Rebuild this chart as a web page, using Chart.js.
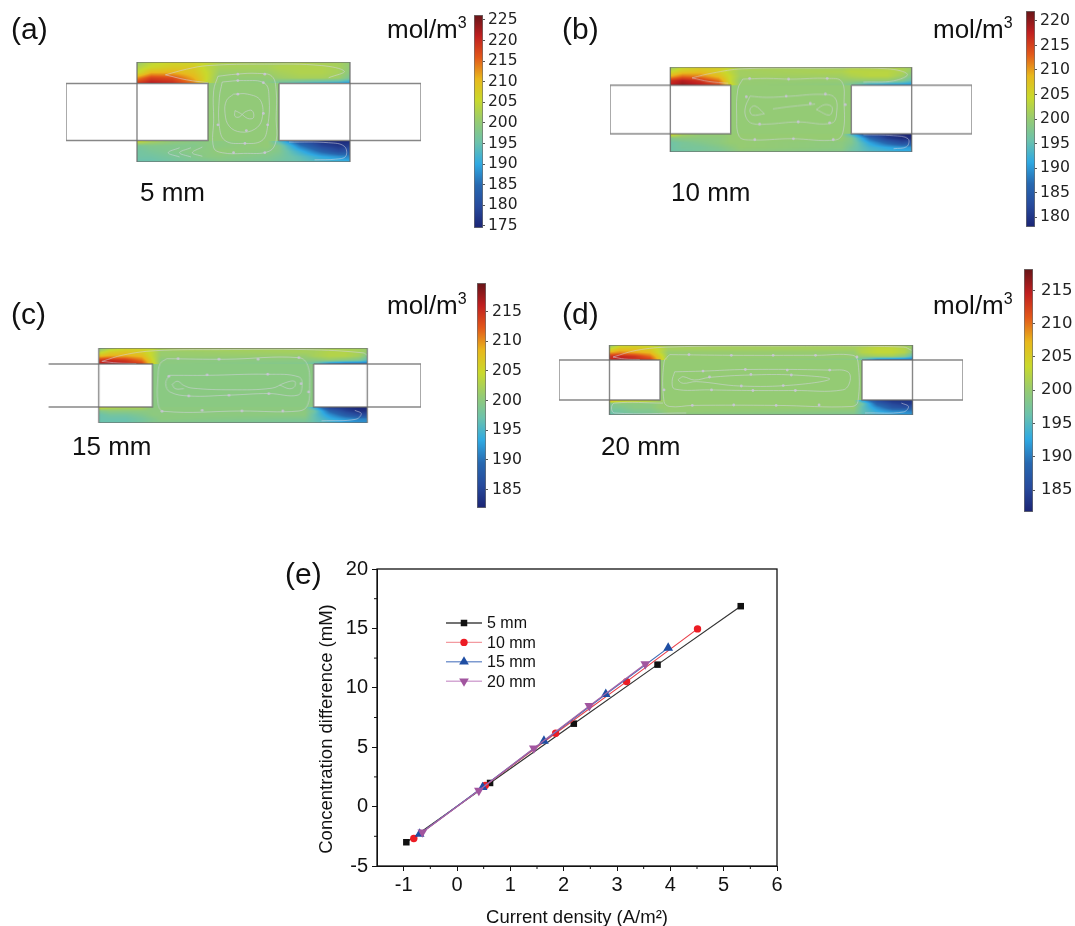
<!DOCTYPE html>
<html>
<head>
<meta charset="utf-8">
<title>Concentration fields and concentration difference vs current density</title>
<script src="https://cdn.jsdelivr.net/npm/chart.js@4/dist/chart.umd.js"></script>
<style>
  html, body { margin: 0; padding: 0; background: #fff; }
  #page { position: relative; width: 1075px; height: 926px; overflow: hidden; filter: blur(0.4px); }
  #page canvas { position: absolute; }
  .lbl { position: absolute; font-family: "Liberation Sans", Arial, sans-serif; color: #111; white-space: nowrap; line-height: 1; }
  .lbl span { font-size: 16px; position: relative; top: -10px; }
</style>
</head>
<body>
<div id="page"></div>
<script>
// (e) line chart
const seriesNames = ['5 mm', '10 mm', '15 mm', '20 mm'];
const x5 = [-0.95, 0.62, 2.19, 3.76, 5.32];
const y5 = [-3.0, 1.99, 6.98, 11.95, 16.87];
const x10 = [-0.81, 0.53, 1.85, 3.18, 4.51];
const y10 = [-2.69, 1.77, 6.17, 10.52, 14.96];
const x15 = [-0.70, 0.48, 1.63, 2.79, 3.96];
const y15 = [-2.3, 1.63, 5.53, 9.46, 13.36];
const x20 = [-0.65, 0.41, 1.44, 2.48, 3.53];
const y20 = [-2.16, 1.35, 4.91, 8.48, 12.0];
const xTicks = [-1, 0, 1, 2, 3, 4, 5, 6];
const xMinor = [-0.5, 0.5, 1.5, 2.5, 3.5, 4.5, 5.5];
const yTicks = [-5, 0, 5, 10, 15, 20];
const yMinor = [-2.5, 2.5, 7.5, 12.5, 17.5];

// colour bars
const barRangeA = [174.5, 226.2];
const barRangeB = [177.96, 222.04];
const barRangeC = [181.9, 219.8];
const barRangeD = [181.7, 218.2];
const barTicksA = [175, 180, 185, 190, 195, 200, 205, 210, 215, 220, 225];
const barTicksB = [180, 185, 190, 195, 200, 205, 210, 215, 220];
const barTicksC = [185, 190, 195, 200, 205, 210, 215];
const barTicksD = [185, 190, 195, 200, 205, 210, 215];
const barColors = ['#1b2474', '#274a9c', '#2768b0', '#2fa9e2', '#6cc2ac', '#96cb72',
  '#c9d92c', '#e8b81c', '#e2581a', '#c01f20', '#661518'];

// concentration in the side channels (mol/m3), top row first.
// columns are mm from the left end / from the right end of the channel
const colsLeft = [0, 1, 2.5, 4, 5, 5.8];
const colsRight = [5.8, 5, 3.5, 2, 0.8, 0];

const topA = [
  [200, 204, 206, 206, 205, 203, 202, 202, 203, 202, 202, 200],
  [203, 206, 208, 208, 204, 202, 202, 203, 203, 203, 202, 200],
  [205, 211, 211, 209, 205, 201, 201, 202, 203, 203, 202, 199],
  [213, 218, 217, 211, 205, 200, 200, 201, 202, 202, 201, 197],
  [219, 222, 220, 214, 204, 200, 199, 196, 193, 191, 190, 188]];
const botA = [
  [207, 203, 200, 199, 199, 199, 200, 193, 180, 176, 175, 175],
  [197, 198, 198, 198, 199, 199, 200, 198, 186, 179, 177, 178],
  [196, 197, 198, 199, 199, 200, 199, 198, 191, 184, 180, 182],
  [196, 196, 197, 198, 199, 199, 198, 197, 194, 190, 188, 187],
  [195, 195, 196, 197, 197, 198, 197, 196, 195, 193, 192, 191]];
const topB = [
  [200, 204, 206, 206, 204, 202, 201, 202, 202, 202, 202, 201],
  [204, 207, 208, 206, 203, 201, 202, 203, 203, 203, 202, 200],
  [209, 212, 211, 208, 204, 201, 201, 202, 203, 203, 201, 198],
  [216, 218, 216, 212, 204, 200, 200, 200, 200, 200, 198, 195],
  [218, 220, 218, 215, 205, 200, 199, 197, 191, 189, 189, 189]];
const botB = [
  [207, 202, 200, 200, 200, 200, 200, 193, 181, 179, 178, 178],
  [198, 199, 199, 199, 200, 200, 200, 198, 187, 181, 179, 179],
  [196, 197, 198, 199, 200, 200, 199, 198, 191, 186, 183, 184],
  [196, 197, 197, 198, 199, 200, 199, 197, 193, 191, 190, 190],
  [196, 196, 197, 197, 198, 199, 198, 196, 194, 193, 192, 192]];
const topC = [
  [199, 202, 205, 205, 204, 203, 202, 202, 202, 202, 202, 201],
  [203, 206, 207, 206, 204, 201, 202, 202, 203, 203, 202, 201],
  [208, 209, 209, 208, 204, 201, 201, 202, 203, 203, 202, 199],
  [214, 215, 214, 211, 205, 200, 200, 200, 201, 200, 199, 196],
  [216, 217, 216, 214, 206, 200, 199, 197, 190, 188, 188, 189]];
const botC = [
  [206, 204, 203, 203, 200, 200, 200, 194, 184, 183, 182, 182],
  [199, 200, 200, 200, 200, 200, 200, 198, 189, 185, 183, 183],
  [197, 198, 198, 199, 200, 200, 200, 197, 192, 188, 186, 186],
  [197, 197, 197, 198, 199, 200, 199, 197, 194, 192, 191, 191],
  [197, 197, 197, 198, 199, 199, 198, 197, 195, 193, 192, 192]];
const topD = [
  [199, 203, 204, 203, 202, 201, 201, 201, 202, 202, 201, 200],
  [203, 206, 206, 205, 203, 201, 201, 202, 203, 203, 202, 200],
  [208, 209, 208, 207, 203, 200, 200, 202, 203, 203, 202, 199],
  [213, 214, 213, 210, 205, 200, 200, 200, 201, 201, 199, 195],
  [214, 215, 214, 213, 206, 200, 199, 196, 189, 188, 188, 189]];
const botD = [
  [209, 206, 205, 204, 201, 200, 200, 192, 185, 183, 183, 183],
  [198, 199, 199, 199, 200, 200, 200, 197, 188, 185, 184, 184],
  [198, 198, 199, 199, 200, 200, 200, 196, 191, 187, 186, 187],
  [197, 197, 198, 198, 199, 200, 199, 196, 193, 191, 191, 190],
  [196, 197, 197, 198, 198, 199, 198, 196, 194, 193, 192, 192]];
const midValue = 199.8;

// streamlines in mm, origin at the lower left of the outer rectangle
const streamsA = [
  [[10.7, 6.0], [12, 6.15], [13.5, 6.2], [14.5, 6.0], [14.8, 5], [14.8, 3], [14.8, 1.5], [14.3, 0.75], [12.5, 0.6], [11, 0.65], [10.4, 1], [10.4, 3], [10.4, 5], [10.7, 6.0]],
  [[11, 5.6], [12.5, 5.7], [14, 5.5], [14.3, 4.5], [14.2, 2.5], [13.8, 1.5], [12.5, 1.3], [11.2, 1.5], [10.8, 2.5], [10.8, 4.5], [11, 5.6]],
  [[11.8, 4.75], [12.8, 4.75], [13.7, 4.3], [13.8, 3], [13.3, 2.3], [12.3, 2.1], [11.5, 2.5], [11.2, 3.4], [11.3, 4.3], [11.8, 4.75]],
  [[11.9, 3.6], [12.3, 3.4], [12.8, 3.05], [13.2, 3.1], [13.1, 3.6], [12.6, 3.5], [12.2, 3.15], [11.9, 3.2], [11.9, 3.6]],
  [[7, 6.1], [8.5, 6.5], [10, 6.75], [14, 6.85], [18, 6.75], [19.6, 6.35], [18.5, 5.9]],
  [[7, 6.1], [8.5, 5.75], [10, 5.55]],
  [[15.7, 1.4], [18.5, 1.35], [19.6, 1.1], [19.7, 0.4], [19, 0.2], [17.5, 0.15]],
  [[8.0, 1.0], [7.2, 0.65], [8.0, 0.35]],
  [[8.8, 1.0], [8, 0.65], [8.8, 0.35]],
  [[9.6, 1.05], [8.9, 0.65], [9.6, 0.4]]];
const arrowsA = [[12.1, 6.15], [14, 6.15], [12.1, 5.7], [13.9, 5.55], [12.1, 4.75], [13.9, 3.4], [14.2, 2.6], [10.7, 2.6], [12.7, 2.2], [12.6, 1.3], [11.8, 0.65], [14, 0.65]];
const streamsB = [
  [[11, 6.0], [13, 6.06], [15, 6.0], [18, 6.06], [19.2, 5.8], [19.4, 4], [19.3, 1.6], [18.7, 1.0], [15, 1.1], [11.5, 1.0], [10.7, 1.3], [10.5, 3], [10.6, 5.2], [11, 6.0]],
  [[11.6, 4.6], [13, 4.5], [15, 4.6], [17.5, 4.75], [18.6, 4.5], [18.8, 3.4], [18.4, 2.4], [15.5, 2.48], [13, 2.3], [11.8, 2.35], [11.3, 2.8], [11.2, 3.6], [11.6, 4.6]],
  [[12.8, 3.15], [12, 3.8], [11.6, 3.5], [11.8, 3.05], [12.8, 3.15]],
  [[17.1, 3.5], [17.8, 3.9], [18.4, 3.7], [18.2, 3.05], [17.1, 3.5]],
  [[13.5, 3.55], [15, 3.75], [17, 3.95]],
  [[6.8, 6.1], [8.5, 6.5], [11, 6.85], [17, 6.9], [23, 6.85], [24.65, 6.4], [23.5, 5.85], [21, 5.75]],
  [[6.8, 6.1], [8.2, 5.8], [9.8, 5.65]],
  [[21, 1.43], [23.5, 1.35], [24.7, 1.1], [24.6, 0.45], [23.5, 0.27]]];
const arrowsB = [[11.57, 6.06], [14.8, 6.0], [18.0, 6.06], [11.3, 4.55], [14.6, 4.6], [17.85, 4.77], [16.6, 4.0], [12.4, 2.3], [15.6, 2.48], [18.2, 2.4], [12.0, 1.02], [15.2, 1.1], [18.5, 1.02], [19.5, 3.9]];
const streamsC = [
  [[11.33, 6.0], [16.83, 5.95], [23.63, 6.1], [24.43, 5.4], [24.63, 3.5], [24.43, 1.65], [23.63, 1.12], [18.33, 1.12], [11.03, 1.09], [10.53, 1.8], [10.53, 4.45], [10.73, 5.55], [11.33, 6.0]],
  [[11.53, 4.45], [15.13, 4.45], [20.73, 4.55], [23.63, 4.3], [23.93, 3.5], [23.53, 2.6], [20.83, 2.75], [17.13, 2.6], [13.43, 2.52], [11.63, 2.9], [11.23, 3.67], [11.53, 4.45]],
  [[11.83, 3.6], [12.33, 3.9], [12.93, 3.5], [13.73, 3.25], [17.33, 3.1], [21.13, 3.25], [22.33, 3.75], [23.23, 3.9], [23.23, 3.4], [22.73, 3.2], [21.83, 3.55]],
  [[11.83, 3.6], [12.13, 3.2], [12.93, 3.2]],
  [[5.3, 5.75], [7.3, 6.35], [10.3, 6.75], [16.3, 6.85], [24.3, 6.85], [29.6, 6.55], [30, 6.3]],
  [[5.3, 5.75], [6.8, 5.6], [8.5, 5.55]],
  [[25.73, 0.2], [28.93, 0.35], [29.43, 0.88], [28.83, 1.18]]];
const arrowsC = [[12.39, 6.0], [16.19, 5.95], [19.83, 5.95], [23.63, 6.1], [11.53, 4.36], [15.09, 4.5], [20.73, 4.55], [23.83, 3.67], [24.53, 2.9], [13.38, 2.52], [17.13, 2.58], [20.83, 2.74], [10.89, 1.09], [14.63, 1.18], [18.33, 1.12], [22.13, 1.12]];
const streamsD = [
  [[10.96, 6.04], [17.06, 5.97], [25.5, 5.97], [29.1, 5.97], [29.6, 5.3], [29.6, 1.35], [29.0, 0.85], [21.5, 0.96], [13.3, 0.96], [10.96, 0.85], [10.4, 1.35], [10.4, 5.3], [10.96, 6.04]],
  [[11.45, 4.32], [14.26, 4.39], [18.55, 4.55], [26.8, 4.49], [28.6, 4.32], [28.8, 3.34], [28.1, 2.51], [23.3, 2.45], [19.2, 2.45], [14.9, 2.51], [11.45, 2.6], [11.2, 3.34], [11.45, 4.32]],
  [[11.95, 3.66], [12.3, 3.83], [13.4, 3.5], [14.9, 3.76], [18.9, 4.0], [23.2, 4.0], [26.8, 3.6], [23.2, 3.0], [17.9, 2.9], [13.6, 3.34], [12.3, 3.17], [11.8, 3.5], [11.95, 3.66]],
  [[5.35, 5.8], [7.7, 6.47], [11, 6.8], [20.9, 6.9], [34.1, 6.8], [34.9, 6.47]],
  [[5.35, 5.8], [6.5, 5.6], [8, 5.55]],
  [[10.3, 1.19], [5.5, 1.19], [5.2, 0.69], [5.5, 0.2], [12.6, 0.2]],
  [[30.3, 0.2], [34.1, 0.3], [34.6, 0.85], [33.9, 1.19]]];
const arrowsD = [[12.87, 6.04], [17.06, 5.97], [21.2, 5.97], [25.4, 5.97], [14.26, 4.39], [18.45, 4.55], [22.6, 4.49], [26.8, 4.49], [19, 4.06], [14.9, 3.8], [23, 4.0], [15.1, 2.51], [19.2, 2.45], [23.4, 2.45], [18.05, 2.9], [22.2, 2.94], [13.2, 0.96], [17.3, 1.0], [21.5, 0.96], [25.75, 1.0], [10.4, 2.51], [29.5, 5.8]];

const page = document.getElementById('page');

function addCanvas(left, top, w, h) {
  const c = document.createElement('canvas');
  c.width = w;
  c.height = h;
  c.style.left = left + 'px';
  c.style.top = top + 'px';
  c.style.width = w + 'px';
  c.style.height = h + 'px';
  page.appendChild(c);
  return c;
}

function hexRgb(h) {
  return [parseInt(h.slice(1, 3), 16), parseInt(h.slice(3, 5), 16), parseInt(h.slice(5, 7), 16)];
}
const barRgb = barColors.map(hexRgb);

function colorAt(v, range) {
  let f = (v - range[0]) / (range[1] - range[0]);
  f = Math.min(0.9999, Math.max(0, f)) * (barRgb.length - 1);
  const i = Math.floor(f), t = f - i;
  return barRgb[i].map((c, k) => c + (barRgb[i + 1][k] - c) * t);
}

function sampleGrid(grid, cols, xv, rowPos) {
  let j = cols.length - 2;
  for (let k = 0; k < cols.length - 1; k++) {
    if (xv <= cols[k + 1]) { j = k; break; }
  }
  const t = Math.min(1, Math.max(0, (xv - cols[j]) / (cols[j + 1] - cols[j])));
  const r = Math.min(grid.length - 1.001, Math.max(0, rowPos));
  const i = Math.floor(r), s = r - i;
  const a = grid[i][j] + (grid[i][j + 1] - grid[i][j]) * t;
  const b = grid[i + 1][j] + (grid[i + 1][j + 1] - grid[i + 1][j]) * t;
  return a + (b - a) * s;
}

// paints the concentration field under the streamlines, through the chart's scales
const fieldPlugin = {
  id: 'field',
  beforeDatasetsDraw(chart, args, opts) {
    const { x, y } = chart.scales;
    const { ctx, chartArea: area } = chart;
    const w = Math.ceil(area.width), h = Math.ceil(area.height);
    const img = ctx.createImageData(w, h);
    const L = x.max;
    const cols = colsLeft.map(c => 5 + c).concat(colsRight.map(c => L - 5 - c));
    for (let py = 0; py < h; py++) {
      const yv = y.getValueForPixel(area.top + py + 0.5);
      for (let px = 0; px < w; px++) {
        const xv = x.getValueForPixel(area.left + px + 0.5);
        if (xv < 5 || xv > L - 5) continue;
        let v = null;
        if (yv >= 5.5) v = sampleGrid(opts.top, cols, xv, (7 - yv) / 1.5 * 4);
        else if (yv <= 1.5) v = sampleGrid(opts.bottom, cols, xv, (1.5 - yv) / 1.5 * 4);
        else if (xv > 10 && xv < L - 10) v = midValue;
        if (v === null) continue;
        const c = colorAt(v, opts.range);
        const o = (py * w + px) * 4;
        img.data[o] = c[0];
        img.data[o + 1] = c[1];
        img.data[o + 2] = c[2];
        img.data[o + 3] = 255;
      }
    }
    ctx.putImageData(img, area.left, area.top);
  }
};

function toPoints(list) {
  return list.map(p => ({ x: p[0], y: p[1] }));
}

function fieldChart(cfg) {
  const L = cfg.length, s = cfg.clipLeft;
  // the two white windows with their stubs, and the outline of the cell
  const outline = [
    s ? [[s, 5.5], [10, 5.5], [10, 1.5], [s, 1.5]] : [[0, 5.5], [10, 5.5], [10, 1.5], [0, 1.5], [0, 5.5]],
    [[L - 10, 5.5], [L, 5.5], [L, 1.5], [L - 10, 1.5], [L - 10, 5.5]],
    [[5, 0], [5, 7], [L - 5, 7], [L - 5, 0], [5, 0]]
  ];
  const datasets = [];
  outline.forEach(o => datasets.push({
    data: toPoints(o), showLine: true, borderColor: 'rgba(105,105,105,0.8)', borderWidth: 1.4,
    pointRadius: 0, tension: 0
  }));
  datasets.push({
    data: toPoints(cfg.arrows), showLine: false, pointRadius: 1.4, pointStyle: 'circle',
    backgroundColor: 'rgba(205,198,218,0.85)', borderWidth: 0
  });
  cfg.streams.forEach(st => datasets.push({
    data: toPoints(st), showLine: true, borderColor: 'rgba(212,212,226,0.6)', borderWidth: 0.9,
    pointRadius: 0, tension: 0.4
  }));
  const pad = 2;
  const c = addCanvas(cfg.left - pad, cfg.top - pad, cfg.width + pad * 2, cfg.height + pad * 2);
  new Chart(c, {
    type: 'scatter',
    data: { datasets },
    plugins: [fieldPlugin],
    options: {
      responsive: false,
      animation: false,
      layout: { padding: pad, autoPadding: false },
      plugins: {
        legend: { display: false },
        tooltip: { enabled: false },
        field: { top: cfg.topGrid, bottom: cfg.botGrid, range: cfg.range }
      },
      scales: {
        x: { type: 'linear', min: 0, max: L, display: false },
        y: { type: 'linear', min: 0, max: 7, display: false }
      }
    }
  });
}

function barChart(cfg) {
  // padV has to stay above half a label height plus the tick padding
  const padV = 20, labelW = 44;
  const c = addCanvas(cfg.left - 1, cfg.top - padV, cfg.width + 1 + labelW, cfg.height + padV * 2);
  new Chart(c, {
    type: 'bar',
    data: {
      labels: ['mol/m3'],
      datasets: [{
        data: [cfg.range],
        barPercentage: 1,
        categoryPercentage: 1,
        borderWidth: 1,
        borderColor: '#6e6e6e',
        borderSkipped: false,
        backgroundColor(ctx) {
          const a = ctx.chart.chartArea;
          if (!a) return '#96cb72';
          const g = ctx.chart.ctx.createLinearGradient(0, a.bottom, 0, a.top);
          barColors.forEach((col, i) => g.addColorStop(i / (barColors.length - 1), col));
          return g;
        }
      }]
    },
    options: {
      responsive: false,
      animation: false,
      layout: { padding: { top: padV, bottom: padV, left: 1, right: 0 }, autoPadding: false },
      plugins: { legend: { display: false }, tooltip: { enabled: false } },
      scales: {
        x: { display: false },
        y: {
          position: 'right',
          min: cfg.range[0],
          max: cfg.range[1],
          afterFit(s) { s.width = labelW; },
          afterBuildTicks(s) { s.ticks = cfg.ticks.map(v => ({ value: v })); },
          grid: { drawOnChartArea: false, tickLength: 2, color: '#555' },
          border: { display: false },
          ticks: {
            autoSkip: false, padding: cfg.gap, color: '#222',
            font: { family: '"DejaVu Sans"', size: cfg.font }
          }
        }
      }
    }
  });
}

fieldChart({ left: 66, top: 61.7, width: 355, height: 100, length: 25, streams: streamsA, arrows: arrowsA, topGrid: topA, botGrid: botA, range: barRangeA });
fieldChart({ left: 610, top: 67, width: 362, height: 84.7, length: 30, streams: streamsB, arrows: arrowsB, topGrid: topB, botGrid: botB, range: barRangeB });
fieldChart({ left: 45.4, top: 347.7, width: 375.6, height: 75, length: 35, clipLeft: 0.33, streams: streamsC, arrows: arrowsC, topGrid: topC, botGrid: botC, range: barRangeC });
fieldChart({ left: 559, top: 344.5, width: 404, height: 70.8, length: 40, streams: streamsD, arrows: arrowsD, topGrid: topD, botGrid: botD, range: barRangeD });

barChart({ left: 474, top: 15, width: 9, height: 213, range: barRangeA, ticks: barTicksA, font: 15.5, gap: 3 });
barChart({ left: 1026, top: 11, width: 9, height: 216, range: barRangeB, ticks: barTicksB, font: 15.7, gap: 3 });
barChart({ left: 477, top: 283, width: 9, height: 225, range: barRangeC, ticks: barTicksC, font: 15.7, gap: 4 });
barChart({ left: 1024, top: 269, width: 9, height: 243, range: barRangeD, ticks: barTicksD, font: 16.5, gap: 6 });

// frame, minor ticks, y title and the line+marker legend of the (e) plot
const framePlugin = {
  id: 'frame',
  afterDraw(chart) {
    const { ctx, chartArea: a, scales } = chart;
    ctx.save();
    ctx.strokeStyle = '#111';
    ctx.lineWidth = 1.3;
    ctx.strokeRect(a.left, a.top, a.width, a.height);
    ctx.lineWidth = 1;
    ctx.beginPath();
    xMinor.forEach(v => {
      const p = scales.x.getPixelForValue(v);
      ctx.moveTo(p, a.bottom);
      ctx.lineTo(p, a.bottom + 3);
    });
    yMinor.forEach(v => {
      const p = scales.y.getPixelForValue(v);
      ctx.moveTo(a.left, p);
      ctx.lineTo(a.left - 3, p);
    });
    ctx.stroke();

    ctx.fillStyle = '#111';
    ctx.font = '18.5px "Liberation Sans"';
    ctx.textAlign = 'center';
    ctx.textBaseline = 'middle';
    ctx.save();
    ctx.translate(27, 176);
    ctx.rotate(-Math.PI / 2);
    ctx.fillText('Concentration difference (mM)', 0, 0);
    ctx.restore();

    ctx.textAlign = 'left';
    ctx.font = '16px "Liberation Sans"';
    chart.data.datasets.forEach((d, i) => {
      const ly = 70 + i * 19.4;
      ctx.strokeStyle = d.legendLine;
      ctx.lineWidth = 1.4;
      ctx.beginPath();
      ctx.moveTo(146, ly);
      ctx.lineTo(182, ly);
      ctx.stroke();
      ctx.fillStyle = d.pointBackgroundColor;
      Chart.helpers.drawPoint(ctx, {
        pointStyle: d.pointStyle, radius: d.pointRadius, rotation: d.pointRotation || 0,
        borderWidth: 0
      }, 164, ly);
      ctx.fillStyle = '#111';
      ctx.fillText(seriesNames[i], 187, ly + 1);
    });
    ctx.restore();
  }
};

function lineSet(i, xs, ys, color, line, legendLine, style, radius, rotation) {
  return {
    label: seriesNames[i],
    data: xs.map((v, k) => ({ x: v, y: ys[k] })),
    showLine: true,
    borderColor: line,
    borderWidth: 1.2,
    legendLine,
    pointStyle: style,
    pointRadius: radius,
    pointRotation: rotation,
    pointBackgroundColor: color,
    pointBorderWidth: 0,
    order: 4 - i
  };
}

new Chart(addCanvas(300, 553, 500, 376), {
  type: 'scatter',
  data: {
    datasets: [
      lineSet(0, x5, y5, '#111111', '#333333', '#444444', 'rect', 4.6, 0),
      lineSet(1, x10, y10, '#ec1c24', '#e8404a', '#f39aa0', 'circle', 3.7, 0),
      lineSet(2, x15, y15, '#1f4ea3', '#3d6ab5', '#7d9ad0', 'triangle', 5.6, 0),
      lineSet(3, x20, y20, '#a1559f', '#a865a8', '#d4a8d4', 'triangle', 5.6, 180)
    ]
  },
  plugins: [framePlugin],
  options: {
    responsive: false,
    animation: false,
    layout: { padding: { top: 14, right: 23, left: 0, bottom: 0 } },
    plugins: { legend: { display: false }, tooltip: { enabled: false } },
    scales: {
      x: {
        type: 'linear', min: -1.5, max: 6,
        afterFit(s) { s.height = 63; },
        afterBuildTicks(s) { s.ticks = xTicks.map(v => ({ value: v })); },
        grid: { drawOnChartArea: false, tickLength: 5, color: '#111' },
        border: { color: '#111' },
        ticks: { color: '#111', padding: 2, maxRotation: 0, font: { family: '"Liberation Sans"', size: 20 } },
        title: {
          display: true, text: 'Current density (A/m\u00b2)', color: '#111',
          font: { family: '"Liberation Sans"', size: 18.5 }, padding: { top: 0, bottom: 0 }
        }
      },
      y: {
        type: 'linear', min: -5, max: 20,
        afterFit(s) { s.width = 77; },
        afterBuildTicks(s) { s.ticks = yTicks.map(v => ({ value: v })); },
        grid: { drawOnChartArea: false, tickLength: 5, color: '#111' },
        border: { color: '#111' },
        ticks: { color: '#111', padding: 4, font: { family: '"Liberation Sans"', size: 20 } }
      }
    }
  }
});

// panel letters, gap widths and colour bar units
const panelLetters = [['(a)', 11, 29], ['(b)', 562, 29], ['(c)', 11, 314], ['(d)', 562, 314], ['(e)', 285, 574]];
const gapLabels = [['5 mm', 140, 192], ['10 mm', 671, 192], ['15 mm', 72, 446], ['20 mm', 601, 446]];
const unitLabels = [[387, 29], [933, 29], [387, 305], [933, 305]];

function addLabel(text, left, cy, size) {
  const d = document.createElement('div');
  d.className = 'lbl';
  d.textContent = text;
  d.style.left = left + 'px';
  d.style.top = (cy - size / 2) + 'px';
  d.style.fontSize = size + 'px';
  page.appendChild(d);
  return d;
}
panelLetters.forEach(l => addLabel(l[0], l[1], l[2], 30));
gapLabels.forEach(l => addLabel(l[0], l[1], l[2], 26));
unitLabels.forEach(l => {
  const d = addLabel('mol/m', l[0], l[1], 26);
  const s = document.createElement('span');
  s.textContent = '3';
  d.appendChild(s);
});
</script>
</body>
</html>
